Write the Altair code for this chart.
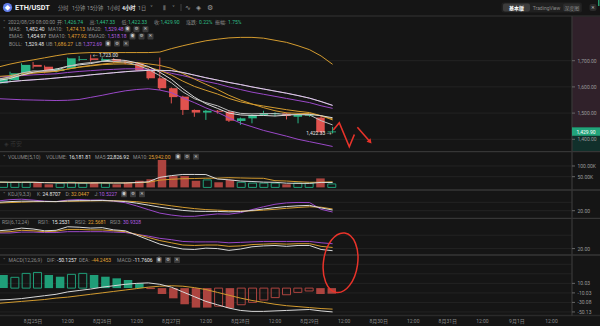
import altair as alt
import pandas as pd

FONT = "Roboto, 'Noto Sans CJK SC', 'DejaVu Sans', sans-serif"

# ================= DATA =================
candle_idx = list(range(30))  # 4h candles, 2022/08/24 12:00 .. 2022/08/29 08:00
opens  = [1614, 1626, 1652, 1684, 1677, 1661, 1671, 1703, 1709, 1700, 1706, 1697, 1690, 1664, 1633,
          1595, 1563, 1512, 1502, 1509, 1505, 1470, 1480, 1493, 1496, 1499, 1486, 1490, 1483, 1426.74]
highs  = [1640, 1658, 1690, 1695, 1682, 1672, 1712, 1718, 1723, 1712, 1710, 1702, 1694, 1672, 1712,
          1598, 1566, 1514, 1512, 1512, 1508, 1483, 1495, 1509, 1503, 1502, 1495, 1497, 1490, 1447.33]
lows   = [1606, 1620, 1646, 1670, 1652, 1655, 1668, 1698, 1697, 1696, 1690, 1686, 1660, 1628, 1588,
          1537, 1493, 1486, 1474, 1498, 1466, 1455, 1461, 1490, 1488, 1476, 1461, 1486, 1420, 1422.33]
closes = [1633, 1652, 1684, 1677, 1658, 1668, 1709, 1706, 1703, 1706, 1696, 1690, 1664, 1633, 1595,
          1561, 1512, 1502, 1509, 1505, 1471, 1480, 1493, 1499, 1500, 1489, 1493, 1493, 1427, 1429.90]

ma5   = [1625, 1632, 1645, 1656, 1663, 1668, 1679, 1684, 1689, 1698, 1704, 1701, 1692, 1678, 1656,
         1629, 1593, 1561, 1536, 1518, 1500, 1493, 1491, 1491, 1489, 1492, 1495, 1495, 1490, 1482.40]
ma10  = [1630, 1636, 1645, 1652, 1656, 1660, 1668, 1676, 1682, 1687, 1692, 1695, 1693, 1688, 1682,
         1671, 1651, 1630, 1610, 1590, 1568, 1550, 1535, 1521, 1509, 1501, 1499, 1498, 1490, 1474.13]
ma20  = [1615, 1620, 1624, 1627, 1630, 1634, 1638, 1641, 1646, 1650, 1654, 1658, 1661, 1663, 1663,
         1662, 1655, 1645, 1635, 1626, 1617, 1609, 1600, 1592, 1584, 1576, 1567, 1557, 1544, 1529.48]
ema5  = [1630, 1638, 1653, 1661, 1660, 1663, 1678, 1688, 1693, 1697, 1697, 1695, 1684, 1667, 1643,
         1616, 1581, 1555, 1540, 1528, 1509, 1499, 1497, 1498, 1498, 1495, 1494, 1493, 1471, 1454.97]
ema10 = [1640, 1643, 1651, 1656, 1657, 1659, 1668, 1675, 1680, 1685, 1687, 1688, 1684, 1676, 1663,
         1645, 1622, 1602, 1587, 1573, 1556, 1543, 1534, 1527, 1520, 1513, 1507, 1502, 1490, 1477.92]
ema20 = [1638, 1640, 1643, 1646, 1648, 1650, 1655, 1659, 1662, 1665, 1667, 1669, 1669, 1667, 1662,
         1652, 1643, 1632, 1621, 1612, 1600, 1590, 1580, 1572, 1564, 1556, 1548, 1540, 1528, 1518.18]
boll_ub = [1676, 1687, 1696, 1703, 1711, 1719, 1726, 1729, 1731, 1731, 1731, 1731, 1731, 1731, 1733,
           1746, 1757, 1767, 1776, 1782, 1787, 1789, 1789, 1786, 1778, 1770, 1757, 1742, 1718, 1686.27]
boll_lb = [1555, 1553, 1551, 1550, 1549, 1548, 1549, 1552, 1560, 1568, 1577, 1585, 1590, 1593, 1588,
           1578, 1558, 1540, 1520, 1503, 1482, 1462, 1448, 1434, 1423, 1412, 1400, 1391, 1382, 1372.69]

volume   = [24000, 24000, 24000, 24000, 14500, 20000, 24000, 20000, 24000, 20000, 14500, 24000, 31000, 38000, 128000,
            53000, 53000, 31000, 35000, 24000, 35000, 24000, 20000, 20000, 20000, 14500, 20000, 20000, 42000, 16181.81]
vol_ma5  = [25000, 24000, 24000, 24000, 22000, 21000, 21000, 20500, 20500, 21500, 20500, 20500, 23000, 26000, 47000,
            55000, 60500, 60500, 60000, 39000, 35500, 29800, 27600, 24600, 23800, 19700, 18900, 18900, 23300, 22826.92]
vol_ma10 = [24000, 24000, 24000, 24000, 23000, 23000, 22500, 22000, 21500, 21000, 21000, 21000, 22000, 23500, 34000,
            38000, 40500, 41500, 43000, 43200, 45500, 44200, 43000, 42500, 31500, 29700, 26500, 23800, 24000, 25942.00]

kdj_k = [80, 85, 88, 88, 86, 85, 90, 92, 92, 93, 90, 85, 74, 60, 45, 33, 22, 16, 15, 15, 12, 14, 22, 32, 42, 50, 55, 58, 40, 24.8707]
kdj_d = [75, 78, 81, 84, 85, 85, 87, 88, 90, 91, 91, 89, 84, 76, 66, 55, 44, 35, 28, 24, 20, 18, 19, 24, 30, 37, 43, 48, 45, 32.0447]
kdj_j = [90, 99, 102, 96, 88, 85, 96, 100, 96, 97, 88, 77, 54, 28, 3, -11, -20, -20, -11, -3, -5, 6, 28, 48, 66, 76, 79, 78, 30, 10.5227]

rsi1 = [60, 62, 66, 64, 60, 61, 69, 68, 66, 67, 62, 60, 50, 40, 30, 24, 19, 18, 21, 20, 16, 19, 24, 26, 27, 25, 27, 27, 18, 15.2531]
rsi2 = [57, 58, 61, 60, 58, 59, 63, 63, 62, 62, 60, 58, 52, 45, 38, 33, 28, 27, 28, 28, 25, 26, 29, 30, 31, 30, 31, 31, 25, 22.5681]
rsi3 = [55, 55, 57, 57, 56, 56, 58, 58, 58, 58, 57, 56, 52, 48, 43, 40, 36, 35, 35, 35, 33, 34, 35, 36, 36, 36, 36, 36, 33, 30.9328]

macd_dif  = [-25, -24, -22, -19, -16, -13, -8, -5, -2, 2, 5, 8, 10, 11, 8, 2, -8, -18, -28, -35, -42, -47, -49, -49, -48,
             -47, -46, -45, -48, -50.1257]
macd_dea  = [-32, -30, -28, -26, -24, -21, -19, -16, -13, -10, -7, -4, -1, 2, 4, 5, 4, 1, -3, -9, -15, -21, -26, -30, -34,
             -37, -39, -41, -43, -44.2453]
macd_hist = [27.6, 22.7, 31, 33, 27.6, 24, 29, 31, 27.6, 24, 20.6, 17, 10, -1, -12.4, -21.5, -34, -41, -41, -38, -42,
             -35, -30, -25, -20, -14, -9, -6, -12.4, -11.7606]
macd_solid = [1, 0, 0, 0, 1, 1, 0, 0, 1, 1, 1, 1, 1, 0, 1, 1, 1, 1, 1, 0, 1, 0, 0, 0, 0, 0, 0, 0, 1, 1]

x_tick_idx = [3, 6, 9, 12, 15, 18, 21, 24, 27, 30, 33, 36, 39, 42, 45, 48]
x_tick_labels = ["8月25日", "12:00", "8月26日", "12:00", "8月27日", "12:00", "8月28日", "12:00",
                 "8月29日", "12:00", "8月30日", "12:00", "8月31日", "12:00", "9月1日", "12:00"]

price_ticks = [1700, 1600, 1500, 1400]
price_tick_labels = ["1,700.00", "1,600.00", "1,500.00", "1,400.00"]
vol_ticks = [100000, 50000]
vol_tick_labels = ["100.00K", "50.00K"]
kdj_ticks = [20]
kdj_grid = [20, 80]
rsi_ticks = [20]
rsi_grid = [20, 50]
macd_ticks = [10.03, -10.03, -30.08, -50.13]
macd_grid = [50.16, 30.1, 10.03, -10.03, -30.08, -50.13]

# hand-drawn red annotation (data coordinates: candle index, price)
zig_i = [29.06, 29.58, 30.45, 30.89]
zig_p = [1435.5, 1463.4, 1371.8, 1418.3]
arrow_i = [31.15, 32.25]
arrow_p = [1445.8, 1390.8]
circle_i = [29.69]
circle_macd = [53.5]

# ================= STYLE / LAYOUT =================
BG = "#151515"
GRID = "#232323"
SEP = "#363636"
WHITE = "#d9d9d9"
ORANGE = "#d39b2f"
PURPLE = "#9a48c8"
UP = "#2ab787"
DOWN = "#e0524e"
VUP = "#1f9e78"
VDOWN = "#ad443f"
GREY = "#8c8c8c"
RED = "#e8332a"

PLOT_W = 572
XS = alt.Scale(domain=[0.13, 49.78], range=[0, PLOT_W], zero=False, nice=False)
PRICE = alt.Scale(domain=[1352.7, 1870.6], range=[151.7, 16], zero=False, nice=False)
VOLS = alt.Scale(domain=[-12150, 166800], range=[190, 151.7], zero=False, nice=False)
KDJS = alt.Scale(domain=[-34.3, 167.9], range=[218.3, 190], zero=False, nice=False)
RSIS = alt.Scale(domain=[5.6, 88], range=[255, 218.3], zero=False, nice=False)
MACDS = alt.Scale(domain=[-56.6, 69.7], range=[315, 255], zero=False, nice=False)
PXX = alt.Scale(domain=[0, 600], range=[0, 600], zero=False, nice=False)
PXY = alt.Scale(domain=[0, 326], range=[0, 326], zero=False, nice=False)


def long_df(series):
    rows = []
    for name, arr, col in series:
        for i, v in zip(candle_idx, arr):
            rows.append({"i": i, "v": v, "s": name, "col": col})
    return pd.DataFrame(rows)


def lines(df, scale, w=1.0):
    return alt.Chart(df).mark_line(strokeWidth=w).encode(
        x=alt.X("i:Q", scale=XS, axis=None),
        y=alt.Y("v:Q", scale=scale, axis=None),
        detail="s:N",
        color=alt.Color("col:N", scale=None),
    )


def grid(vals, scale):
    return alt.Chart(pd.DataFrame({"v": vals})).mark_rule(color=GRID, strokeWidth=1).encode(
        y=alt.Y("v:Q", scale=scale, axis=None), x=alt.value(0), x2=alt.value(PLOT_W))


def axis_labels(vals, labels, scale):
    df = pd.DataFrame({"v": vals, "t": labels})
    ticks = alt.Chart(df).mark_rule(color="#666666", strokeWidth=1).encode(
        y=alt.Y("v:Q", scale=scale, axis=None), x=alt.value(PLOT_W), x2=alt.value(PLOT_W + 3))
    txt = alt.Chart(df).mark_text(align="left", baseline="middle", font=FONT, fontSize=5, color="#9a9a9a").encode(
        y=alt.Y("v:Q", scale=scale, axis=None), x=alt.value(577.5), text="t:N")
    return [ticks, txt]


def px_text(items, align="left", bold=False):
    df = pd.DataFrame(items, columns=["x", "y", "t", "col", "fs"])
    return alt.Chart(df).mark_text(align=align, baseline="middle", font=FONT,
                                   fontWeight="bold" if bold else "normal").encode(
        x=alt.X("x:Q", scale=PXX, axis=None),
        y=alt.Y("y:Q", scale=PXY, axis=None),
        text="t:N",
        color=alt.Color("col:N", scale=None),
        size=alt.Size("fs:Q", scale=None),
    )


def px_rect(items, radius=0):
    df = pd.DataFrame(items, columns=["x", "x2", "y", "y2", "col"])
    return alt.Chart(df).mark_rect(cornerRadius=radius).encode(
        x=alt.X("x:Q", scale=PXX, axis=None), x2="x2:Q",
        y=alt.Y("y:Q", scale=PXY, axis=None), y2="y2:Q",
        color=alt.Color("col:N", scale=None),
    )


def px_rule(items, w=1):
    df = pd.DataFrame(items, columns=["x", "x2", "y", "y2", "col"])
    return alt.Chart(df).mark_rule(strokeWidth=w).encode(
        x=alt.X("x:Q", scale=PXX, axis=None), x2="x2:Q",
        y=alt.Y("y:Q", scale=PXY, axis=None), y2="y2:Q",
        color=alt.Color("col:N", scale=None),
    )


layers = []

# right price column shading
layers.append(px_rect([
    (572, 600, 16, 127.3, "#30212a"),
    (572, 600, 135.8, 151.7, "#11302b"),
]))

# grids
layers += [grid(price_ticks, PRICE), grid([1e5, 5e4], VOLS), grid(kdj_grid, KDJS),
           grid(rsi_grid, RSIS), grid(macd_grid, MACDS)]

# separators
layers.append(px_rule([
    (0, 600, 16, 16, "#2a2a2a"),
    (0, 600, 151.7, 151.7, SEP),
    (0, 600, 190, 190, SEP),
    (0, 600, 218.3, 218.3, SEP),
    (0, 600, 255, 255, SEP),
    (0, 600, 315.5, 315.5, "#2a2a2a"),
    (572, 572, 16, 316, SEP),
], w=1.3))

# candles
cdf = pd.DataFrame({"i": candle_idx, "o": opens, "h": highs, "l": lows, "c": closes})
cdf["col"] = [UP if c >= o else DOWN for o, c in zip(opens, closes)]
layers.append(alt.Chart(cdf).mark_rule(strokeWidth=1).encode(
    x=alt.X("i:Q", scale=XS, axis=None),
    y=alt.Y("l:Q", scale=PRICE, axis=None), y2="h:Q",
    color=alt.Color("col:N", scale=None)))
layers.append(alt.Chart(cdf).mark_bar(size=8.5).encode(
    x=alt.X("i:Q", scale=XS, axis=None),
    y=alt.Y("o:Q", scale=PRICE, axis=None), y2="c:Q",
    color=alt.Color("col:N", scale=None)))

# main indicator lines
main_df = long_df([
    ("BOLL_LB", boll_lb, PURPLE), ("BOLL_UB", boll_ub, ORANGE),
    ("MA20", ma20, PURPLE), ("EMA20", ema20, PURPLE),
    ("MA10", ma10, ORANGE), ("EMA10", ema10, ORANGE),
    ("BOLL", ma20, WHITE), ("MA5", ma5, WHITE), ("EMA5", ema5, "#bdbdbd"),
])
layers.append(lines(main_df, PRICE))

# high / low markers
mk = pd.DataFrame({"i": [8, 29], "p": [1723, 1422.33], "t": ["← 1,723.00", "1,422.33 →"],
                   "al": ["l", "r"]})
layers.append(alt.Chart(mk[mk.al == "l"]).mark_text(align="left", baseline="middle", dx=2, font=FONT,
                                                    fontSize=5, color="#e6e6e6").encode(
    x=alt.X("i:Q", scale=XS, axis=None), y=alt.Y("p:Q", scale=PRICE, axis=None), text="t:N"))
layers.append(alt.Chart(mk[mk.al == "r"]).mark_text(align="right", baseline="middle", dx=-1, font=FONT,
                                                    fontSize=5, color="#e6e6e6").encode(
    x=alt.X("i:Q", scale=XS, axis=None), y=alt.Y("p:Q", scale=PRICE, axis=None), text="t:N"))

# volume
vdf = pd.DataFrame({"i": candle_idx, "v": volume})
vdf["up"] = [c >= o for o, c in zip(opens, closes)]
layers.append(alt.Chart(vdf[~vdf.up]).mark_bar(size=8.5, color=VDOWN).encode(
    x=alt.X("i:Q", scale=XS, axis=None), y=alt.Y("v:Q", scale=VOLS, axis=None)))
layers.append(alt.Chart(vdf[vdf.up]).mark_bar(size=8, fillOpacity=0, stroke=VUP, strokeWidth=1).encode(
    x=alt.X("i:Q", scale=XS, axis=None), y=alt.Y("v:Q", scale=VOLS, axis=None)))
layers.append(lines(long_df([("VMA10", vol_ma10, ORANGE), ("VMA5", vol_ma5, WHITE)]), VOLS))

# KDJ
layers.append(lines(long_df([("J", kdj_j, PURPLE), ("D", kdj_d, ORANGE), ("K", kdj_k, WHITE)]), KDJS))
# RSI
layers.append(lines(long_df([("RSI3", rsi3, PURPLE), ("RSI2", rsi2, ORANGE), ("RSI1", rsi1, WHITE)]), RSIS))

# MACD
mdf = pd.DataFrame({"i": candle_idx, "v": macd_hist, "solid": macd_solid})
mdf["col"] = [VUP if v >= 0 else VDOWN for v in macd_hist]
layers.append(alt.Chart(mdf[mdf.solid == 1]).mark_bar(size=8.5).encode(
    x=alt.X("i:Q", scale=XS, axis=None), y=alt.Y("v:Q", scale=MACDS, axis=None),
    color=alt.Color("col:N", scale=None)))
layers.append(alt.Chart(mdf[mdf.solid == 0]).mark_bar(size=8, fillOpacity=0, strokeWidth=1).encode(
    x=alt.X("i:Q", scale=XS, axis=None), y=alt.Y("v:Q", scale=MACDS, axis=None),
    stroke=alt.Stroke("col:N", scale=None)))
layers.append(lines(long_df([("DEA", macd_dea, ORANGE), ("DIF", macd_dif, WHITE)]), MACDS))

# right axis labels
layers += axis_labels(price_ticks, price_tick_labels, PRICE)
layers += axis_labels(vol_ticks, vol_tick_labels, VOLS)
layers += axis_labels(kdj_ticks, ["20.00"], KDJS)
layers += axis_labels(rsi_ticks, ["20.00"], RSIS)
layers += axis_labels(macd_ticks, ["10.03", "-10.03", "-30.08", "-50.13"], MACDS)

# last price box
layers.append(px_rect([(572, 600, 127.3, 135.8, "#22a47b")]))
layers.append(px_text([(586, 131.6, "1,429.90", "#ffffff", 5)], align="center"))

# bottom time labels
xl = pd.DataFrame({"i": x_tick_idx, "t": x_tick_labels})
layers.append(alt.Chart(xl).mark_text(baseline="middle", font=FONT, fontSize=5, color="#8a8a8a").encode(
    x=alt.X("i:Q", scale=XS, axis=None), y=alt.value(320.5), text="t:N"))

# ---------- header texts ----------
G, Wt, Gr, O, P = GREY, "#e8e8e8", "#2ebd85", "#e0a234", "#b35ee0"
FS = 5
hdr = [
    (3, 21.7, "˅", G, 5), (8, 21.7, "2022/08/29 08:00:00", G, FS),
    (57, 21.7, "开:", G, FS), (64, 21.7, "1,426.74", Gr, FS),
    (89.5, 21.7, "高:", G, FS), (96, 21.7, "1,447.33", Gr, FS),
    (121.5, 21.7, "低:", G, FS), (128, 21.7, "1,422.33", Gr, FS),
    (154, 21.7, "收:", G, FS), (160.5, 21.7, "1,429.90", Gr, FS),
    (186, 21.7, "涨跌:", G, FS), (199, 21.7, "0.22%", Gr, FS),
    (215, 21.7, "振幅:", G, FS), (228, 21.7, "1.75%", Gr, FS),

    (3, 29.3, "˅", G, 5), (9, 29.3, "MA5:", G, FS), (25.5, 29.3, "1,482.40", Wt, FS),
    (48, 29.3, "MA10:", G, FS), (66, 29.3, "1,474.13", O, FS),
    (87, 29.3, "MA20:", G, FS), (104.5, 29.3, "1,529.48", P, FS),

    (9, 36.4, "EMA5:", G, FS), (27, 36.4, "1,454.97", Wt, FS),
    (48.5, 36.4, "EMA10:", G, FS), (67.5, 36.4, "1,477.92", O, FS),
    (88.5, 36.4, "EMA20:", G, FS), (107.5, 36.4, "1,518.18", P, FS),

    (9, 43.6, "BOLL:", G, FS), (25, 43.6, "1,529.48", Wt, FS),
    (46, 43.6, "UB:", G, FS), (54, 43.6, "1,686.27", O, FS),
    (75.5, 43.6, "LB:", G, FS), (83, 43.6, "1,372.69", P, FS),

    (3, 156.7, "˅", G, 5), (8, 156.7, "VOLUME(5,10)", G, FS),
    (46, 156.7, "VOLUME:", G, FS), (69, 156.7, "16,181.81", Wt, FS),
    (95, 156.7, "MA5:", G, FS), (107, 156.7, "22,826.92", Wt, FS),
    (133, 156.7, "MA10:", G, FS), (148.5, 156.7, "25,942.00", O, FS),

    (3, 194.3, "˅", G, 5), (8, 194.3, "KDJ(9,3,3)", G, FS),
    (37, 194.3, "K:", G, FS), (42.5, 194.3, "24.8707", Wt, FS),
    (65.5, 194.3, "D:", G, FS), (71, 194.3, "32.0447", O, FS),
    (94.5, 194.3, "J:", G, FS), (99, 194.3, "10.5227", P, FS),

    (2, 221.8, "RSI(6,12,24)", G, FS),
    (38, 221.8, "RSI1:", G, FS), (52, 221.8, "15.2531", Wt, FS),
    (75, 221.8, "RSI2:", G, FS), (88, 221.8, "22.5681", O, FS),
    (110, 221.8, "RSI3:", G, FS), (123, 221.8, "30.9328", P, FS),

    (3, 260, "˅", G, 5), (8.5, 260, "MACD(12,26,9)", G, FS),
    (47, 260, "DIF:", G, FS), (57, 260, "-50.1257", Wt, FS),
    (79, 260, "DEA:", G, FS), (91.5, 260, "-44.2453", O, FS),
    (117, 260, "MACD:", G, FS), (133, 260, "-11.7606", Wt, FS),

    # toolbar
    (58, 7.5, "分时", "#9a9a9a", 5.2), (72, 7.5, "1分钟", "#9a9a9a", 5.2),
    (87, 7.5, "15分钟", "#9a9a9a", 5.2), (107, 7.5, "1小时", "#9a9a9a", 5.2),
    (138, 7.5, "1日", "#9a9a9a", 5.2), (150, 7.5, "˅", "#9a9a9a", 6),
    (163, 7.5, "⫴", "#9a9a9a", 6.5), (172, 7.5, "˅", "#9a9a9a", 6),
    (185, 7.5, "∿", "#9a9a9a", 7), (196, 7.5, "◈", "#9a9a9a", 6.5),
    (207, 7.5, "⚙", "#9a9a9a", 7), (4, 143.5, "◈ 币安", "#333333", 6),
]
layers.append(px_text(hdr))
layers.append(px_text([(15, 7.5, "ETH/USDT", "#f2f2f2", 7.3), (122, 7.5, "4小时", "#f2f2f2", 5.2)], bold=True))

# small indicator buttons (eye / gear / close)
btn_rows = [(127.5, 29.3), (132.5, 36.4), (108, 43.6), (178, 156.7), (124, 194.3), (159, 260)]
btn_rects, btn_txt = [], []
for bx, by in btn_rows:
    for k, g in enumerate(["◉", "⚙", "✕"]):
        cx = bx + k * 9
        btn_rects.append((cx - 3, cx + 3, by - 3, by + 3, "#3a3a3a"))
        btn_txt.append((cx, by, g, "#c8c8c8", 4.5))
layers.append(px_rect(btn_rects, radius=1))
layers.append(px_text(btn_txt, align="center"))

# toolbar right-side controls and ETH icon
layers.append(px_rect([(501.5, 582, 2.5, 12.5, "#202020"), (503, 530, 3.5, 11.5, "#3c3c3c"),
                       (563, 580.5, 3.5, 11.5, "#2b2b2b"), (589.5, 596.5, 4, 11, "#2b2b2b")], radius=2))
layers.append(px_rule([(181, 181, 4, 11, "#3a3a3a"), (598.8, 598.8, 0, 6, "#2ebd85")], w=1.2))
layers.append(px_text([(516.5, 7.5, "基本版", "#ffffff", 5)], align="center", bold=True))
layers.append(px_text([(546.5, 7.5, "TradingView", "#8a8a8a", 5), (571.7, 7.5, "深度图", "#8a8a8a", 5),
                       (593, 7.5, "✕", "#bbbbbb", 4.5)], align="center"))
eth = pd.DataFrame({"x": [7.5], "y": [7.5]})
layers.append(alt.Chart(eth).mark_point(shape="circle", filled=True, size=85, color="#627eea", opacity=1).encode(
    x=alt.X("x:Q", scale=PXX, axis=None), y=alt.Y("y:Q", scale=PXY, axis=None)))
layers.append(px_text([(7.5, 7.6, "◆", "#ffffff", 5.5)], align="center"))

# red hand-drawn annotation
zig = pd.DataFrame({"i": zig_i + arrow_i, "p": zig_p + arrow_p,
                    "g": ["a"] * len(zig_i) + ["b"] * len(arrow_i),
                    "k": list(range(len(zig_i))) + list(range(len(arrow_i)))})
layers.append(alt.Chart(zig).mark_line(color=RED, strokeWidth=1.6).encode(
    x=alt.X("i:Q", scale=XS, axis=None), y=alt.Y("p:Q", scale=PRICE, axis=None),
    detail="g:N", order="k:Q"))
head = pd.DataFrame({"i": [arrow_i[-1]], "p": [arrow_p[-1]]})
layers.append(alt.Chart(head).mark_point(shape="triangle-right", filled=True, size=28, angle=49,
                                         color=RED, opacity=1).encode(
    x=alt.X("i:Q", scale=XS, axis=None), y=alt.Y("p:Q", scale=PRICE, axis=None)))
ell = pd.DataFrame({"i": circle_i, "v": circle_macd})
ELLIPSE = "M0,-1A0.57,1,0,1,1,0,1A0.57,1,0,1,1,0,-1Z"
layers.append(alt.Chart(ell).mark_point(shape=ELLIPSE, size=3600, filled=False, stroke=RED,
                                        strokeWidth=1.5, angle=8, opacity=1).encode(
    x=alt.X("i:Q", scale=XS, axis=None), y=alt.Y("v:Q", scale=MACDS, axis=None)))

chart = alt.layer(*layers).resolve_scale(x="independent", y="independent").properties(
    width=600, height=326, background=BG, padding=0,
    autosize=alt.AutoSizeParams(type="none"),
).configure_view(strokeWidth=0)

chart.save("out.html", embed_options={"renderer": "svg", "actions": False})
